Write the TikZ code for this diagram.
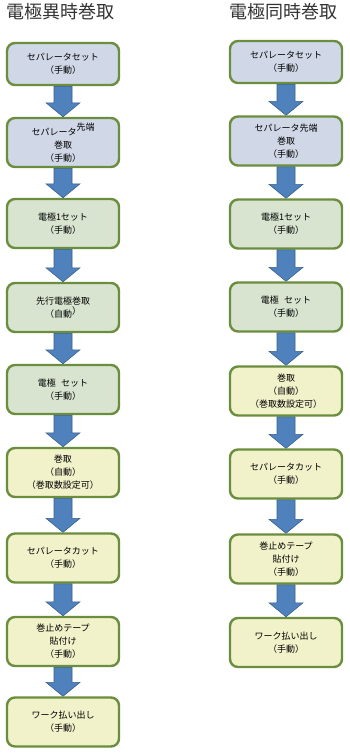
\documentclass[tikz,border=0pt]{standalone}
\usepackage{fontspec}
\setmainfont{Noto Sans CJK JP}
\usepackage{tikz}
\usetikzlibrary{calc, backgrounds}
\usepackage{xcolor}
\definecolor{boxblue}{RGB}{208,216,232}
\definecolor{boxgreen}{RGB}{216,228,208}
\definecolor{boxyellow}{RGB}{241,241,202}
\definecolor{boxedge}{RGB}{106,142,62}
\definecolor{arrowblue}{RGB}{79,129,189}
\definecolor{arrowedge}{RGB}{58,96,140}

\begin{document}
\begin{tikzpicture}[x=1pt, y=-1pt,
    stepbox/.style={draw=boxedge, line width=2.4pt, rounded corners=8pt, align=center,
      minimum width=112pt, minimum height=49pt, inner sep=0pt,
      font=\fontsize{9}{13}\selectfont},
    title/.style={font=\fontsize{18}{20}\selectfont, text=black!80},
    fatarrow/.style={fill=arrowblue, draw=arrowedge, line width=0.6pt}]
  \useasboundingbox (0,0) rectangle (350,755);
  % Titles
  \node[title] (tl) at (60,12) {電極異時巻取};
  \node[title] (tr) at (283,12) {電極同時巻取};
  % Left column
  \node[stepbox, fill=boxblue, minimum height=42pt] (l1) at (63,64) {セパレータセット\\（手動）};
  \node[stepbox, fill=boxblue] (l2) at (63,142.5) {セパレータ\raisebox{5pt}{先端}\\巻取\\（手動）};
  \node[stepbox, fill=boxgreen] (l3) at (63,223.5) {電極1セット\\（手動）};
  \node[stepbox, fill=boxgreen] (l4) at (63,307.5) {先行電極巻取\\（自動\raisebox{3pt}{）}};
  \node[stepbox, fill=boxgreen] (l5) at (63,389.5) {電極\hspace{0.6em}セット\\（手動）};
  \node[stepbox, fill=boxyellow] (l6) at (63,472.5) {巻取\\（自動）\\（巻取数設定可）};
  \node[stepbox, fill=boxyellow] (l7) at (63,558) {セパレータカット\\（手動）};
  \node[stepbox, fill=boxyellow] (l8) at (63,641.5) {巻止めテープ\\貼付け\\（手動）};
  \node[stepbox, fill=boxyellow] (l9) at (63,722) {ワーク払い出し\\（手動）};
  % Right column
  \node[stepbox, fill=boxblue, minimum height=42pt] (r1) at (286,62) {セパレータセット\\（手動）};
  \node[stepbox, fill=boxblue] (r2) at (286,141) {セパレータ先端\\巻取\\（手動）};
  \node[stepbox, fill=boxgreen] (r3) at (286,224) {電極1セット\\（手動）};
  \node[stepbox, fill=boxgreen] (r4) at (286,307) {電極\hspace{0.6em}セット\\（手動）};
  \node[stepbox, fill=boxyellow] (r5) at (286,391) {巻取\\（自動）\\（巻取数設定可）};
  \node[stepbox, fill=boxyellow] (r6) at (286,474) {セパレータカット\\（手動）};
  \node[stepbox, fill=boxyellow] (r7) at (286,559) {巻止めテープ\\貼付け\\（手動）};
  \node[stepbox, fill=boxyellow] (r8) at (286,642.5) {ワーク払い出し\\（手動）};
  % Block arrows
  \begin{scope}[on background layer]
    \foreach \a/\b in {l1/l2, l2/l3, l3/l4, l4/l5, l5/l6, l6/l7, l7/l8, l8/l9,
                       r1/r2, r2/r3, r3/r4, r4/r5, r5/r6, r6/r7, r7/r8} {
      \draw[fatarrow] ($(\a.south)+(-9,0)$) -- ($(\b.north)+(-9,-14)$)
        -- ($(\b.north)+(-17,-14)$) -- (\b.north) -- ($(\b.north)+(17,-14)$)
        -- ($(\b.north)+(9,-14)$) -- ($(\a.south)+(9,0)$) -- cycle;
    }
  \end{scope}
\end{tikzpicture}
\end{document}
